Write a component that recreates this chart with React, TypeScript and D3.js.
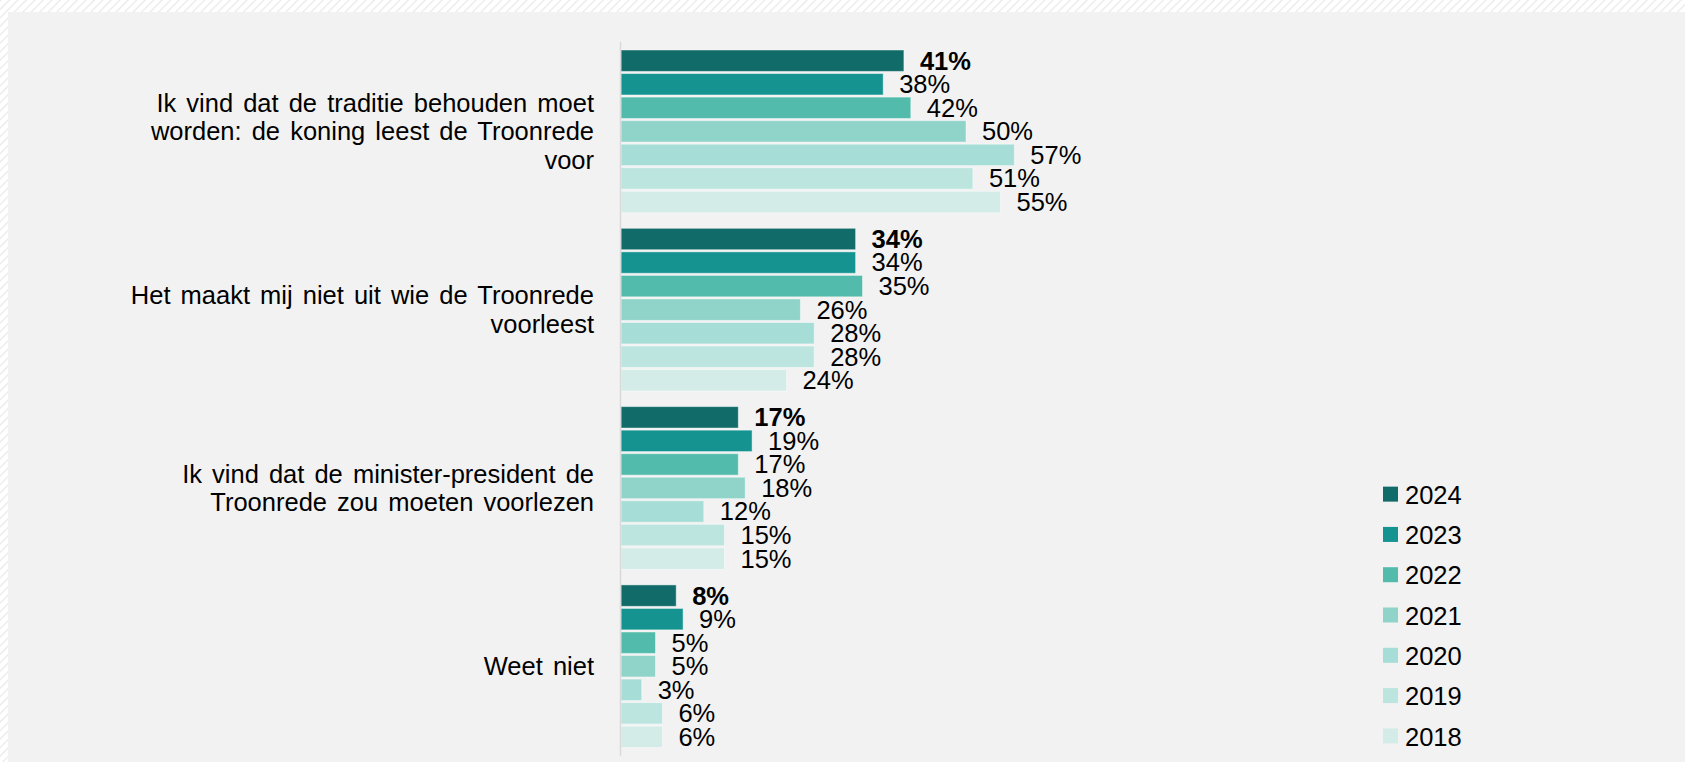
import React from "react";
import * as d3 from "d3";

const categories = [
  "Ik vind dat de traditie behouden moet worden: de koning leest de Troonrede voor",
  "Het maakt mij niet uit wie de Troonrede voorleest",
  "Ik vind dat de minister-president de Troonrede zou moeten voorlezen",
  "Weet niet",
];
const categoryLines = [
  ["Ik vind dat de traditie behouden moet", "worden: de koning leest de Troonrede", "voor"],
  ["Het maakt mij niet uit wie de Troonrede", "voorleest"],
  ["Ik vind dat de minister-president de", "Troonrede zou moeten voorlezen"],
  ["Weet niet"],
];
const years = ["2024", "2023", "2022", "2021", "2020", "2019", "2018"];
const v2024 = [41, 34, 17, 8];
const v2023 = [38, 34, 19, 9];
const v2022 = [42, 35, 17, 5];
const v2021 = [50, 26, 18, 5];
const v2020 = [57, 28, 12, 3];
const v2019 = [51, 28, 15, 6];
const v2018 = [55, 24, 15, 6];
const seriesValues = [v2024, v2023, v2022, v2021, v2020, v2019, v2018];
const colors = ["#116b69", "#159390", "#52bbab", "#8fd3c9", "#a6ddd6", "#bce5e0", "#d3ece8"];

const W = 1685;
const H = 762;
const FONT = "'Liberation Sans', Arial, Helvetica, sans-serif";
const FS = 25.5;

export default function App() {
  const x = d3.scaleLinear().domain([0, 100]).range([621, 1311]);
  const y = d3
    .scaleBand<string>()
    .domain(categories)
    .range([41.8, 755.8])
    .paddingInner(0.0875)
    .paddingOuter(0.046);
  const yInner = d3
    .scaleBand<string>()
    .domain(years)
    .range([0, y.bandwidth()])
    .paddingInner(0.09)
    .paddingOuter(0);
  const lineH = 28.3;
  const legendY = d3.scaleBand<string>().domain(years).range([474, 756]);

  return (
    <div style={{ position: "absolute", left: 0, top: 0 }}>
      <svg width={W} height={H} style={{ display: "block" }} fontFamily={FONT}>
        <defs>
          <pattern id="hatch" width="6" height="6" patternUnits="userSpaceOnUse" patternTransform="rotate(45)">
            <rect width="6" height="6" fill="#ffffff" />
            <line x1="0" y1="0" x2="0" y2="6" stroke="#e9e9e9" strokeWidth="2.5" />
          </pattern>
        </defs>
        <rect x={0} y={0} width={W} height={H} fill="url(#hatch)" />
        <rect x={8} y={12} width={W - 8} height={H - 12} fill="#f2f2f2" />

        {categories.map((c, ci) => (
          <g key={c}>
            {seriesValues.map((vals, si) => {
              const yy = (y(c) as number) + (yInner(years[si]) as number);
              const h = yInner.bandwidth();
              return (
                <g key={years[si]}>
                  <rect
                    x={x(0)}
                    y={yy}
                    width={x(vals[ci]) - x(0)}
                    height={h}
                    fill={colors[si]}
                    stroke="rgba(255,255,255,0.45)"
                    strokeWidth={1}
                  />
                  <text
                    x={x(vals[ci]) + 16}
                    y={yy + h / 2}
                    dy="0.35em"
                    fontSize={FS}
                    fontWeight={si === 0 ? "bold" : "normal"}
                    fill="#000"
                  >
                    {vals[ci] + "%"}
                  </text>
                </g>
              );
            })}
            {categoryLines[ci].map((line, li) => {
              const n = categoryLines[ci].length;
              const cy = (y(c) as number) + y.bandwidth() / 2 + (li - (n - 1) / 2) * lineH;
              return (
                <text
                  key={li}
                  x={594}
                  y={cy}
                  dy="0.35em"
                  textAnchor="end"
                  fontSize={FS}
                  wordSpacing={3}
                  fill="#000"
                >
                  {line}
                </text>
              );
            })}
          </g>
        ))}

        <line x1={620.5} x2={620.5} y1={41.8} y2={755.8} stroke="#d9d9d9" strokeWidth={1.5} />

        {years.map((yr, i) => {
          const cy = (legendY(yr) as number) + legendY.bandwidth() / 2;
          return (
            <g key={yr}>
              <rect x={1383} y={cy - 7.5} width={15} height={15} fill={colors[i]} />
              <text x={1405} y={cy} dy="0.38em" fontSize={FS} fill="#000">
                {yr}
              </text>
            </g>
          );
        })}
      </svg>
    </div>
  );
}
